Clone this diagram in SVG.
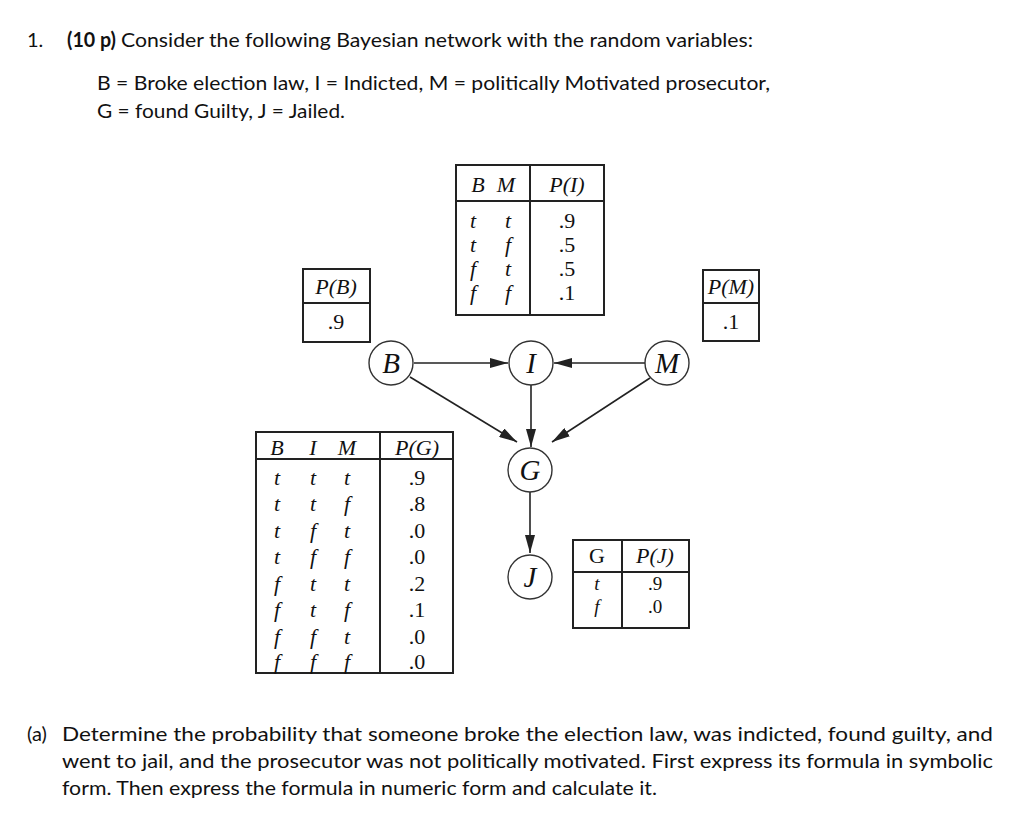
<svg xmlns="http://www.w3.org/2000/svg" width="1024" height="820" viewBox="0 0 1024 820">
<defs>
<style>
.body{font-family:Lato,"Open Sans","Liberation Sans",sans-serif;font-size:20px;fill:#111}
.bold{font-weight:bold}
.tb{font-family:"Liberation Serif","DejaVu Serif",serif;font-size:22px;fill:#111}
.sm{font-size:19px}
.it{font-style:italic}
.nd{font-family:"Liberation Serif","DejaVu Serif",serif;font-size:29px;font-style:italic;fill:#111}
.box{fill:none;stroke:#222;stroke-width:2}
.ln{stroke:#222;stroke-width:2}
.circ{fill:#fff;stroke:#333;stroke-width:1.4}
.edge{stroke:#222;stroke-width:1.6;fill:none}
</style>
<marker id="arr" markerUnits="userSpaceOnUse" markerWidth="18" markerHeight="10" refX="18" refY="5" orient="auto">
<path d="M0,0 L18,5 L0,10 z" fill="#222"/>
</marker>
</defs>
<rect width="1024" height="820" fill="#fff"/>

<g id="header-text">
<text class="body" x="27" y="47">1.</text>
<text class="body bold" x="67" y="47" textLength="49" lengthAdjust="spacingAndGlyphs">(10 p)</text>
<text class="body" x="121" y="47" textLength="632" lengthAdjust="spacingAndGlyphs">Consider the following Bayesian network with the random variables:</text>
<text class="body" x="97" y="90" textLength="673" lengthAdjust="spacingAndGlyphs">B = Broke election law, I = Indicted, M = politically Motivated prosecutor,</text>
<text class="body" x="97" y="118" textLength="248" lengthAdjust="spacingAndGlyphs">G = found Guilty, J = Jailed.</text>
</g>

<g id="cpt-I">
<rect class="box" x="456" y="165" width="148" height="150"/>
<line class="ln" x1="456" y1="201" x2="604" y2="201"/>
<line class="ln" x1="530" y1="165" x2="530" y2="315"/>
<text class="tb it" x="478" y="192" text-anchor="middle">B</text>
<text class="tb it" x="506" y="192" text-anchor="middle">M</text>
<text class="tb it" x="567" y="192" text-anchor="middle">P(I)</text>
<g class="tb it" text-anchor="middle">
<text x="473" y="228">t</text><text x="508" y="228">t</text>
<text x="473" y="252">t</text><text x="508" y="252">f</text>
<text x="473" y="276">f</text><text x="508" y="276">t</text>
<text x="473" y="300">f</text><text x="508" y="300">f</text>
</g>
<g class="tb" text-anchor="middle">
<text x="567" y="228">.9</text>
<text x="567" y="252">.5</text>
<text x="567" y="276">.5</text>
<text x="567" y="300">.1</text>
</g>
</g>

<g id="cpt-B">
<rect class="box" x="303" y="269" width="67" height="73"/>
<line class="ln" x1="303" y1="303" x2="370" y2="303"/>
<text class="tb it" x="336" y="294" text-anchor="middle">P(B)</text>
<text class="tb" x="336" y="329" text-anchor="middle">.9</text>
</g>

<g id="cpt-M">
<rect class="box" x="703" y="270" width="56" height="71"/>
<line class="ln" x1="703" y1="303" x2="759" y2="303"/>
<text class="tb it" x="731" y="294" text-anchor="middle">P(M)</text>
<text class="tb" x="731" y="329" text-anchor="middle">.1</text>
</g>

<g id="cpt-G">
<rect class="box" x="256" y="432" width="197" height="241"/>
<line class="ln" x1="256" y1="459" x2="453" y2="459"/>
<line class="ln" x1="380" y1="432" x2="380" y2="673"/>
<g class="tb it" text-anchor="middle">
<text x="277" y="455">B</text><text x="313" y="455">I</text><text x="347" y="455">M</text>
<text x="417" y="455">P(G)</text>
</g>
<g class="tb it" text-anchor="middle">
<text x="277" y="485">t</text><text x="313" y="485">t</text><text x="347" y="485">t</text>
<text x="277" y="511">t</text><text x="313" y="511">t</text><text x="347" y="511">f</text>
<text x="277" y="538">t</text><text x="313" y="538">f</text><text x="347" y="538">t</text>
<text x="277" y="564">t</text><text x="313" y="564">f</text><text x="347" y="564">f</text>
<text x="277" y="591">f</text><text x="313" y="591">t</text><text x="347" y="591">t</text>
<text x="277" y="617">f</text><text x="313" y="617">t</text><text x="347" y="617">f</text>
<text x="277" y="644">f</text><text x="313" y="644">f</text><text x="347" y="644">t</text>
<text x="277" y="669">f</text><text x="313" y="669">f</text><text x="347" y="669">f</text>
</g>
<g class="tb" text-anchor="middle">
<text x="417" y="485">.9</text>
<text x="417" y="511">.8</text>
<text x="417" y="538">.0</text>
<text x="417" y="564">.0</text>
<text x="417" y="591">.2</text>
<text x="417" y="617">.1</text>
<text x="417" y="644">.0</text>
<text x="417" y="669">.0</text>
</g>
</g>

<g id="cpt-J">
<rect class="box" x="573" y="540" width="116" height="88"/>
<line class="ln" x1="573" y1="572" x2="689" y2="572"/>
<line class="ln" x1="622" y1="540" x2="622" y2="628"/>
<text class="tb" x="597" y="563" text-anchor="middle">G</text>
<text class="tb it" x="655" y="563" text-anchor="middle">P(J)</text>
<text class="tb sm it" x="597" y="590" text-anchor="middle">t</text>
<text class="tb sm it" x="597" y="613" text-anchor="middle">f</text>
<text class="tb sm" x="655" y="590" text-anchor="middle">.9</text>
<text class="tb sm" x="655" y="613" text-anchor="middle">.0</text>
</g>

<g id="connectors">
<line class="edge" x1="414" y1="363" x2="508" y2="363" marker-end="url(#arr)"/>
<line class="edge" x1="645" y1="363" x2="554" y2="363" marker-end="url(#arr)"/>
<line class="edge" x1="531" y1="385" x2="531" y2="447" marker-end="url(#arr)"/>
<line class="edge" x1="410" y1="377" x2="517" y2="442" marker-end="url(#arr)"/>
<line class="edge" x1="650" y1="378" x2="552" y2="442" marker-end="url(#arr)"/>
<line class="edge" x1="530" y1="492" x2="530" y2="553" marker-end="url(#arr)"/>
</g>

<g id="node-B">
<circle class="circ" cx="391" cy="363" r="22"/>
<text class="nd" x="391" y="373" text-anchor="middle">B</text>
</g>
<g id="node-I">
<circle class="circ" cx="531" cy="363" r="22"/>
<text class="nd" x="531" y="373" text-anchor="middle">I</text>
</g>
<g id="node-M">
<circle class="circ" cx="667" cy="363" r="22"/>
<text class="nd" x="667" y="373" text-anchor="middle">M</text>
</g>
<g id="node-G">
<circle class="circ" cx="530" cy="470" r="22"/>
<text class="nd" x="530" y="480" text-anchor="middle">G</text>
</g>
<g id="node-J">
<circle class="circ" cx="530" cy="577" r="22"/>
<text class="nd" x="530" y="587" text-anchor="middle">J</text>
</g>

<g id="question-text">
<text class="body" x="27" y="741">(a)</text>
<text class="body" x="62" y="741" textLength="931" lengthAdjust="spacingAndGlyphs">Determine the probability that someone broke the election law, was indicted, found guilty, and</text>
<text class="body" x="62" y="768" textLength="931" lengthAdjust="spacingAndGlyphs">went to jail, and the prosecutor was not politically motivated. First express its formula in symbolic</text>
<text class="body" x="62" y="795" textLength="595" lengthAdjust="spacingAndGlyphs">form. Then express the formula in numeric form and calculate it.</text>
</g>
</svg>
